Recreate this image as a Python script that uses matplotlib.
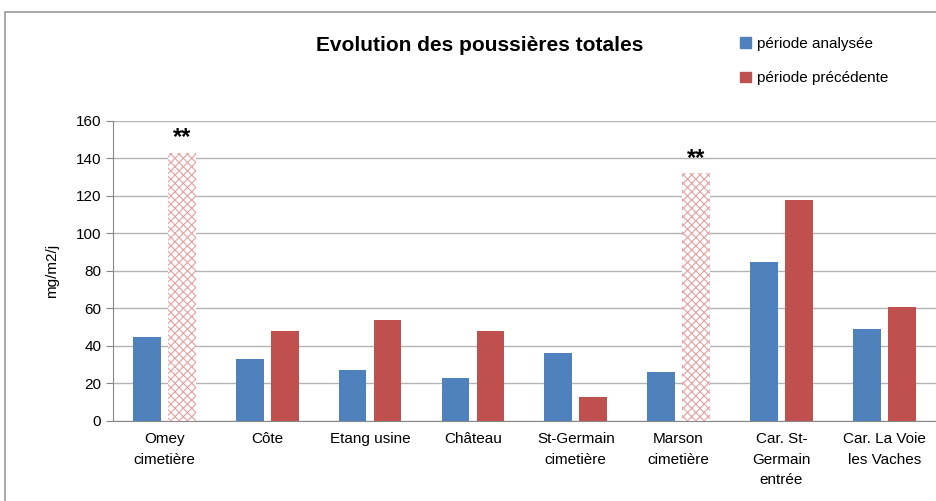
import matplotlib.pyplot as plt
import numpy as np
from matplotlib.patches import Rectangle, Patch

sites = ["Omey\ncimetière", "Côte", "Etang usine", "Château", "St-Germain\ncimetière",
         "Marson\ncimetière", "Car. St-\nGermain\nentrée", "Car. La Voie\nles Vaches"]
analysee = [45, 33, 27, 23, 36, 26, 85, 49]
precedente = [143, 48, 54, 48, 13, 132, 118, 61]
hatched = [True, False, False, False, False, True, False, False]

blue = "#4f81bd"
red = "#c0504d"


def init_plt_env():
    plt.rcParams['font.family'] = ['Liberation Sans', 'DejaVu Sans']
    plt.rcParams['hatch.linewidth'] = 0.8


def draw_chart():
    init_plt_env()
    fig = plt.figure(figsize=(9.37, 5.01), dpi=100)
    ax = fig.add_axes([0.1206, 0.1597, 0.878, 0.5988])

    x = np.arange(len(sites))
    width = 0.27
    off = 0.17

    ax.bar(x - off, analysee, width, color=blue, zorder=3)
    for xi, v, h in zip(x, precedente, hatched):
        if h:
            ax.bar(xi + off, v, width, color="white", edgecolor="#e8a0a0",
                   hatch="xxxx", linewidth=0, zorder=3)
            ax.text(xi + off, v + 2, "**", ha="center", va="bottom",
                    fontsize=17, fontweight="bold", color="black")
        else:
            ax.bar(xi + off, v, width, color=red, zorder=3)

    ax.set_xlim(-0.5, len(sites) - 0.5)
    ax.set_ylim(0, 160)
    ax.set_yticks(np.arange(0, 161, 20))
    ax.set_xticks(x)
    ax.set_xticklabels(sites, fontsize=11, linespacing=1.6)
    ax.tick_params(axis="y", labelsize=11, length=5, color="#888888")
    ax.tick_params(axis="x", length=0, pad=8)
    ax.grid(axis="y", color="#b4b4b4", linewidth=1, zorder=0)
    for s in ["top", "right"]:
        ax.spines[s].set_visible(False)
    ax.spines["left"].set_color("#888888")
    ax.spines["bottom"].set_color("#888888")
    ax.set_ylabel("mg/m2/j", fontsize=11, labelpad=12)

    fig.text(0.512, 0.91, "Evolution des poussières totales", ha="center", va="center",
             fontsize=15, fontweight="bold")
    handles = [Patch(color=blue, label="période analysée"),
               Patch(color=red, label="période précédente")]
    fig.legend(handles=handles, loc="upper left", bbox_to_anchor=(0.775, 0.954), frameon=False,
               fontsize=11, handlelength=0.7, handleheight=0.7, handletextpad=0.4,
               labelspacing=1.35)

    fig.patches.append(Rectangle((0.005, -0.1), 1.1, 1.076, transform=fig.transFigure,
                                 fill=False, edgecolor="#9a9a9a", linewidth=1.2))

    plt.savefig("out.png", dpi=100)


if __name__ == '__main__':
    draw_chart()
